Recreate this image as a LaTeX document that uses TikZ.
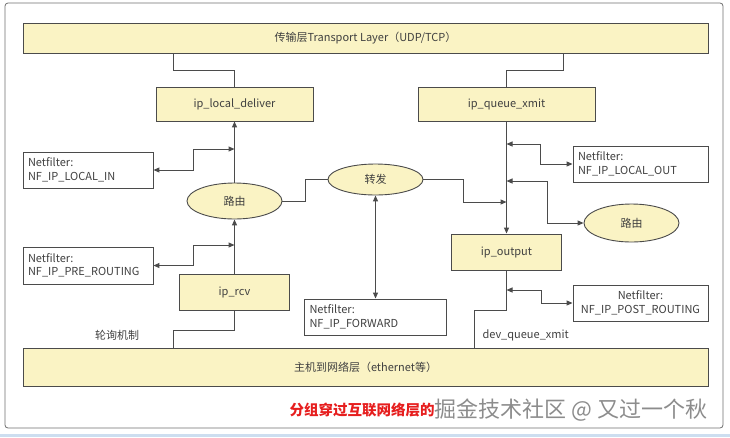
\documentclass[tikz,border=0pt]{standalone}
\usepackage{fontspec}
\setmainfont{Noto Sans CJK SC}
\usepackage{xcolor}
\usetikzlibrary{arrows.meta,shapes.geometric}
\definecolor{boxyellow}{RGB}{250,243,196}
\definecolor{linegray}{RGB}{75,75,75}
\definecolor{framegray}{RGB}{110,110,110}
\definecolor{stripblue}{RGB}{205,222,240}
\definecolor{markred}{RGB}{230,30,30}
\begin{document}
\begin{tikzpicture}[x=1pt,y=-1pt,
  font=\fontsize{11}{13.5}\selectfont,
  funcbox/.style={draw=linegray,fill=boxyellow,line width=0.9pt,minimum height=34pt,inner sep=0pt,text=black!75},
  hookbox/.style={draw=linegray,fill=white,line width=0.9pt,minimum height=36pt,align=left,inner sep=5pt,text=black!75},
  routeell/.style={ellipse,draw=linegray,fill=boxyellow,line width=0.9pt,minimum width=95pt,minimum height=36pt,inner sep=0pt,text=black!75},
  link/.style={draw=linegray,line width=1pt},
  arr/.style={link,-{Triangle[length=6pt,width=5pt]}},
  darr/.style={link,{Triangle[length=6pt,width=5pt]}-{Triangle[length=6pt,width=5pt]}}]
\useasboundingbox (0,0) rectangle (730,437);
\fill[stripblue] (0,434) rectangle (730,437);
\draw[framegray,line width=0.8pt,rounded corners=3pt] (5,3) rectangle (723,428);

\node[funcbox,minimum width=685pt,minimum height=30pt] (transport) at (365.5,38) {传输层Transport Layer（UDP/TCP）};
\node[funcbox,minimum width=685pt,minimum height=38pt] (hostnet) at (365.5,367) {主机到网络层（ethernet等）};
\node[funcbox,minimum width=157pt] (deliver) at (234.5,104) {ip\_local\_deliver};
\node[funcbox,minimum width=177pt] (xmit) at (506.5,104) {ip\_queue\_xmit};
\node[funcbox,minimum width=110pt,minimum height=36pt] (output) at (506.5,252) {ip\_output};
\node[funcbox,minimum width=110pt,minimum height=36pt] (rcv) at (234.5,292) {ip\_rcv};

\node[routeell] (route1) at (234.5,201) {路由};
\node[routeell,minimum height=31pt] (forward) at (375.5,179.5) {转发};
\node[routeell,minimum height=38pt] (route2) at (631.5,223) {路由};

\node[hookbox,text width=120pt] (localin) at (88,170) {Netfilter:\\NF\_IP\_LOCAL\_IN};
\node[hookbox,text width=120pt,minimum height=37pt] (prert) at (88,265.5) {Netfilter:\\NF\_IP\_PRE\_ROUTING};
\node[hookbox,text width=132pt] (fwdbox) at (375.5,317) {Netfilter:\\NF\_IP\_FORWARD};
\node[hookbox,text width=125pt] (localout) at (640.5,164) {Netfilter:\\NF\_IP\_LOCAL\_OUT};
\node[hookbox,text width=125pt,align=center] (postrt) at (640.5,303) {Netfilter:\\NF\_IP\_POST\_ROUTING};

\node[text=black!75] (poll) at (117,335) {轮询机制};
\node[text=black!75,anchor=west] (devq) at (479,335) {dev\_queue\_xmit};

\draw[link] (transport.south -| 173,0) |- (0,70 -| deliver.north) -- (deliver.north);
\draw[link] (transport.south -| 563,0) |- (0,70 -| xmit.north) -- (xmit.north);
\draw[arr] (route1.north) -- (deliver.south);
\draw[darr] (localin.east) -| (193,149) -- (deliver.south |- 0,149);
\draw[arr] (rcv.north) -- (route1.south);
\draw[darr] (prert.east) -| (193,245) -- (rcv.north |- 0,245);
\draw[link] (hostnet.north -| 173,0) |- (0,330 -| rcv.south) -- (rcv.south);
\draw[link] (route1.east) -- (305,0 |- route1.east) |- (forward.west);
\draw[arr] (forward.east) -- (463,0 |- forward.east) |- (xmit.south |- 0,202);
\draw[darr] (forward.south) -- (fwdbox.north);
\draw[arr] (xmit.south) -- (output.north);
\draw[darr] (xmit.south |- 0,144) -| (540,0 |- localout.west) -- (localout.west);
\draw[darr] (xmit.south |- 0,181) -| (547,0 |- route2.west) -- (route2.west);
\draw[darr] (output.south |- 0,290) -| (541,0 |- postrt.west) -- (postrt.west);
\draw[link] (output.south) -- (output.south |- 0,310) -| (hostnet.north -| 474,0);

\node[anchor=west,text=markred,font=\fontsize{14.5}{16}\selectfont\bfseries] (caption) at (286,410) {分组穿过互联网络层的};
\node[anchor=west,text=gray!90,font=\fontsize{22}{24}\selectfont] (watermark) at (431,410) {掘金技术社区 @ 又过一个秋};
\end{tikzpicture}
\end{document}
